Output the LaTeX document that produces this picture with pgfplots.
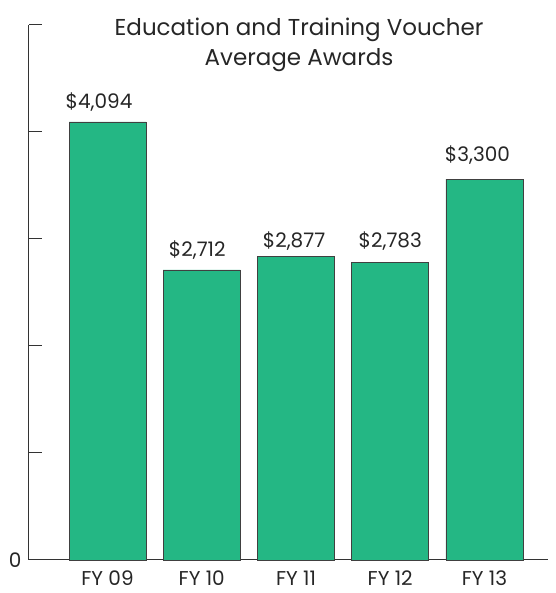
\documentclass[border=0pt]{standalone}
\usepackage{pgfplots}
\pgfplotsset{compat=1.18}
\usepackage{fontspec}
\setmainfont{Poppins}
\definecolor{barg}{HTML}{24B784}
\definecolor{axg}{HTML}{333333}
\begin{document}
\begin{tikzpicture}
\begin{axis}[
  at={(0pt,0pt)}, anchor=south west,
  scale only axis,
  width=519pt, height=535pt,
  xmin=-0.833, xmax=4.674,
  ymin=0, ymax=5000,
  axis x line*=bottom, axis y line*=left,
  axis line style={axg, line width=1pt},
  xtick={0,1,2,3,4},
  xticklabels={FY 09,FY 10,FY 11,FY 12,FY 13},
  xtick style={draw=none},
  ytick={0,1000,2000,3000,4000,5000},
  yticklabels={0,,,,,},
  tick align=inside,
  major tick length=13pt,
  ytick style={axg, line width=1pt},
  ticklabel style={font=\fontsize{20}{23}\selectfont, text=black!85},
  yticklabel style={xshift=-4pt},
  xticklabel style={inner sep=0pt, yshift=-11pt},
  /pgf/number format/assume math mode=true,
  clip=false,
]
\addplot[ybar, bar width=77pt, fill=barg, draw=black!75, line width=0.6pt] table {
x y
0 4094
1 2712
2 2835
3 2783
4 3560
};
\addplot[draw=none, mark=none,
  nodes near coords=\pgfplotspointmeta,
  point meta=explicit symbolic,
  every node near coord/.append style={font=\fontsize{20}{23}\selectfont, text=black!85, anchor=base, inner sep=0pt},
] table[meta=lab] {
x y lab
-0.09 4224 \$4,094
0.952 2835 \$2,712
1.979 2916 \$2,877
3.0 2916 \$2,783
3.926 3722 \$3,300
};
\node[font=\fontsize{23}{27}\selectfont, text=black!85, anchor=base] at (axis cs:2.032,4906) {Education and Training Voucher};
\node[font=\fontsize{23}{27}\selectfont, text=black!85, anchor=base] at (axis cs:2.032,4626) {Average Awards};
\end{axis}
\path (-29pt,-33pt) rectangle (526pt,560pt);
\end{tikzpicture}
\end{document}
